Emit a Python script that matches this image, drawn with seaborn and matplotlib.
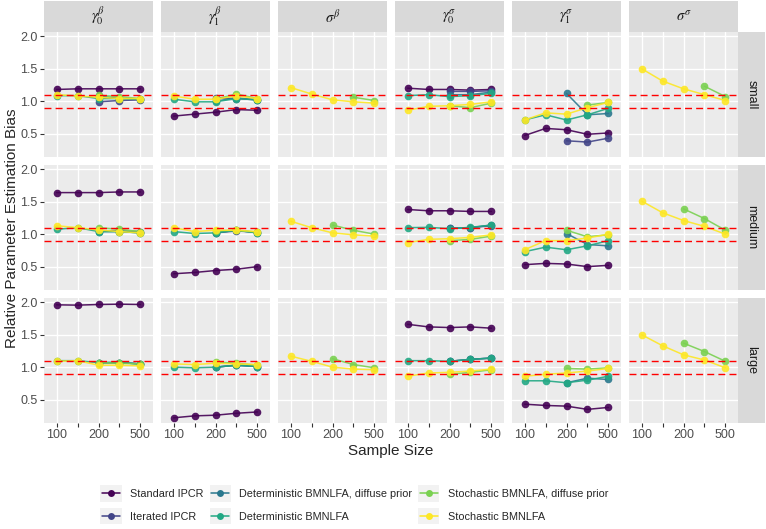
import numpy as np
import pandas as pd
import seaborn as sns
import matplotlib.pyplot as plt
from matplotlib.patches import Rectangle
from matplotlib.lines import Line2D
from matplotlib.legend_handler import HandlerLine2D

N = np.nan

# ---- data ----
sample_sizes = [100, 150, 200, 300, 500]
size_ticklabels = ["100", "", "200", "", "500"]
sizes = ["small", "medium", "large"]
params = [r"$\gamma_0^\beta$", r"$\gamma_1^\beta$", r"$\sigma^\beta$",
          r"$\gamma_0^\sigma$", r"$\gamma_1^\sigma$", r"$\sigma^\sigma$"]
methods = ["Standard IPCR", "Iterated IPCR", "Deterministic BMNLFA, diffuse prior",
           "Deterministic BMNLFA", "Stochastic BMNLFA, diffuse prior", "Stochastic BMNLFA"]
colors = ["#440154", "#414487", "#2A788E", "#22A884", "#7AD151", "#FDE725"]
NA5 = [N] * 5

# rows per size: gamma0_beta, gamma1_beta, sigma_beta, gamma0_sigma, gamma1_sigma, sigma_sigma
standard_ipcr = {
    "small":  [[1.18, 1.19, 1.19, 1.19, 1.19], [0.77, 0.80, 0.83, 0.87, 0.86], NA5,
               [1.20, 1.18, 1.18, 1.17, 1.18], [0.47, 0.58, 0.56, 0.49, 0.51], NA5],
    "medium": [[1.64, 1.64, 1.64, 1.65, 1.65], [0.39, 0.41, 0.44, 0.46, 0.50], NA5,
               [1.38, 1.36, 1.36, 1.35, 1.35], [0.53, 0.55, 0.54, 0.50, 0.52], NA5],
    "large":  [[1.96, 1.955, 1.965, 1.97, 1.965], [0.22, 0.25, 0.26, 0.29, 0.31], NA5,
               [1.66, 1.62, 1.61, 1.62, 1.60], [0.43, 0.41, 0.40, 0.35, 0.38], NA5],
}
iterated_ipcr = {
    "small":  [[N, N, 0.99, 1.01, 1.02], [N, N, 1.05, 1.04, 1.02], NA5,
               [N, N, 1.15, 1.15, 1.16], [N, N, 0.39, 0.37, 0.43], NA5],
    "medium": [[N, N, 1.05, 1.05, 1.04], [N, N, 1.02, 1.05, 1.03], NA5,
               [N, N, 1.09, 1.10, 1.13], NA5, NA5],
    "large":  [[N, N, 1.07, 1.07, 1.05], [N, N, 1.00, 1.03, 1.01], NA5,
               [N, N, 1.09, 1.12, 1.14], NA5, NA5],
}
det_diffuse = {
    "small":  [[N, N, 1.08, 1.04, 1.03], [N, N, 1.00, 1.05, 1.02], NA5,
               [N, N, 1.10, 1.10, 1.14], [N, N, 1.12, 0.79, 0.81], NA5],
    "medium": [[N, N, 1.04, 1.04, 1.02], [N, N, 1.02, 1.06, 1.02], NA5,
               [N, N, 1.09, 1.10, 1.14], [N, N, 1.01, 0.84, 0.82], NA5],
    "large":  [[N, N, 1.07, 1.07, 1.05], [N, N, 1.00, 1.03, 1.01], NA5,
               [N, N, 1.09, 1.12, 1.14], [N, N, 0.76, 0.83, 0.81], NA5],
}
det_bmnlfa = {
    "small":  [[1.085, 1.085, 1.04, 1.04, 1.03], [1.03, 0.99, 0.99, 1.04, 1.02], NA5,
               [1.085, 1.10, 1.07, 1.085, 1.12], [0.71, 0.79, 0.71, 0.79, 0.89], NA5],
    "medium": [[1.075, 1.10, 1.04, 1.04, 1.02], [1.04, 1.01, 1.02, 1.06, 1.02], NA5,
               [1.10, 1.105, 1.085, 1.105, 1.14], [0.73, 0.80, 0.76, 0.82, 0.90], NA5],
    "large":  [[1.10, 1.10, 1.07, 1.07, 1.05], [1.00, 0.99, 1.00, 1.03, 1.01], NA5,
               [1.10, 1.10, 1.09, 1.12, 1.14], [0.79, 0.79, 0.76, 0.80, 0.86], NA5],
}
stoch_diffuse = {
    "small":  [[N, N, 1.09, 1.07, 1.04], [N, N, 1.03, 1.11, 1.04], [N, N, N, 1.06, 1.01],
               [N, N, 0.93, 0.90, 0.97], [N, N, N, 0.94, 0.98], [N, N, N, 1.23, 1.07]],
    "medium": [[N, N, 1.10, 1.075, 1.04], [N, N, 1.05, 1.06, 1.03], [N, N, 1.14, 1.06, 1.00],
               [N, N, 0.90, 0.92, 0.97], [N, N, 1.06, 0.96, 0.99], [N, N, 1.39, 1.24, 1.06]],
    "large":  [[N, N, 1.07, 1.06, 1.05], [N, N, 1.08, 1.06, 1.03], [N, N, 1.13, 1.04, 0.99],
               [N, N, 0.89, 0.92, 0.96], [N, N, 0.98, 0.97, 0.99], [N, N, 1.37, 1.24, 1.09]],
}
stoch_bmnlfa = {
    "small":  [[1.10, 1.08, 1.06, 1.04, 1.04], [1.08, 1.03, 1.03, 1.08, 1.04],
               [1.21, 1.11, 1.02, 0.99, 0.97], [0.86, 0.92, 0.93, 0.95, 0.99],
               [0.71, 0.82, 0.80, 0.90, 0.98], [1.50, 1.31, 1.19, 1.10, 1.01]],
    "medium": [[1.13, 1.10, 1.065, 1.04, 1.02], [1.10, 1.04, 1.06, 1.06, 1.04],
               [1.20, 1.10, 1.02, 0.99, 0.97], [0.87, 0.92, 0.93, 0.95, 0.99],
               [0.76, 0.90, 0.90, 0.94, 1.00], [1.51, 1.33, 1.21, 1.12, 1.00]],
    "large":  [[1.09, 1.10, 1.03, 1.03, 1.02], [1.05, 1.04, 1.06, 1.05, 1.04],
               [1.17, 1.09, 1.00, 0.97, 0.96], [0.86, 0.91, 0.92, 0.94, 0.97],
               [0.86, 0.89, 0.91, 0.94, 0.98], [1.50, 1.33, 1.19, 1.11, 0.99]],
}
method_data = [standard_ipcr, iterated_ipcr, det_diffuse, det_bmnlfa, stoch_diffuse, stoch_bmnlfa]

rows = []
for m, tbl in zip(methods, method_data):
    for s in sizes:
        for p, vals in zip(params, tbl[s]):
            for i, v in enumerate(vals):
                rows.append({"method": m, "size": s, "param": p, "pos": i, "bias": v})
df = pd.DataFrame(rows).dropna()

# ---- style ----
sns.set_theme(style="darkgrid", rc={
    "axes.facecolor": "#EBEBEB", "grid.color": "white", "grid.linewidth": 1.0,
    "xtick.color": "#333333", "ytick.color": "#333333",
    "xtick.labelcolor": "#4D4D4D", "ytick.labelcolor": "#4D4D4D",
    "xtick.major.size": 3, "ytick.major.size": 3,
    "xtick.major.width": 0.8, "ytick.major.width": 0.8,
    "xtick.major.pad": 1.5, "ytick.major.pad": 1.5,
    "xtick.bottom": True, "ytick.left": True,
    "mathtext.fontset": "stix",
})
plt.rcParams["font.family"] = ["Liberation Sans", "DejaVu Sans"]

W, H = 766, 529
fig, axes = plt.subplots(3, 6, figsize=(W / 100, H / 100), dpi=100)

pw, ph = 109, 125
lefts = [44 + 117 * j for j in range(6)]
tops = [32 + 133 * i for i in range(3)]

for i, s in enumerate(sizes):
    for j, p in enumerate(params):
        ax = axes[i, j]
        ax.set_position([lefts[j] / W, 1 - (tops[i] + ph) / H, pw / W, ph / H])
        sub = df[(df["size"] == s) & (df["param"] == p)]
        sns.lineplot(data=sub, x="pos", y="bias", hue="method", hue_order=methods,
                     palette=colors, marker="o", markersize=5.5, markeredgewidth=0,
                     linewidth=1.1, alpha=0.9, estimator=None, sort=False,
                     legend=False, ax=ax)
        for yv in (0.9, 1.1):
            ax.axhline(yv, color="red", linestyle=(0, (5, 3)), linewidth=1.0, zorder=5)
        ax.set_xlim(-0.6, 4.6)
        ax.set_ylim(0.14, 2.065)
        ax.set_xticks(range(len(sample_sizes)))
        ax.set_yticks([0.5, 1.0, 1.5, 2.0])
        ax.set_xlabel("")
        ax.set_ylabel("")
        for sp in ax.spines.values():
            sp.set_visible(False)
        if i == 2:
            ax.set_xticklabels(size_ticklabels, fontsize=9)
        else:
            ax.set_xticklabels([])
            ax.tick_params(axis="x", length=0)
        if j == 0:
            ax.set_yticklabels(["0.5", "1.0", "1.5", "2.0"], fontsize=9)
        else:
            ax.set_yticklabels([])
            ax.tick_params(axis="y", length=0)

# facet strips
for j, p in enumerate(params):
    fig.add_artist(Rectangle((lefts[j] / W, 1 - 32 / H), pw / W, 31 / H,
                             transform=fig.transFigure, facecolor="#D9D9D9", edgecolor="none"))
    fig.text((lefts[j] + pw / 2) / W, 1 - 16.5 / H, p, ha="center", va="center",
             fontsize=10.5, color="#1A1A1A")
for i, s in enumerate(sizes):
    fig.add_artist(Rectangle((738 / W, 1 - (tops[i] + ph) / H), 27 / W, ph / H,
                             transform=fig.transFigure, facecolor="#D9D9D9", edgecolor="none"))
    fig.text(751.5 / W, 1 - (tops[i] + ph / 2) / H, s, ha="center", va="center",
             rotation=-90, fontsize=9, color="#1A1A1A")

fig.text(391 / W, 1 - 451 / H, "Sample Size", ha="center", va="center", fontsize=11)
fig.text(12 / W, 1 - 228 / H, "Relative Parameter Estimation Bias", ha="center",
         va="center", rotation=90, fontsize=11)


class KeyWithBackground(HandlerLine2D):
    # legend key drawn on a light grey square, like ggplot's legend.key
    def create_artists(self, legend, orig_handle, xdescent, ydescent, width, height,
                       fontsize, trans):
        arts = super().create_artists(legend, orig_handle, xdescent, ydescent, width,
                                      height, fontsize, trans)
        pad = 0.4 * fontsize
        bg = Rectangle((-xdescent - 1, -ydescent - pad), width + 2, height + 2 * pad,
                       facecolor="#F2F2F2", edgecolor="none", transform=trans)
        return [bg] + list(arts)


handles = [Line2D([], [], color=c, marker="o", markersize=5, markeredgewidth=0, linewidth=1.1)
           for c in colors]
fig.legend(handles, methods, loc="center", bbox_to_anchor=(355 / W, 1 - 505.5 / H),
           ncol=3, frameon=False, fontsize=7.8, handlelength=1.7, handletextpad=0.9,
           columnspacing=0.7, labelspacing=1.15, borderpad=0,
           handler_map={Line2D: KeyWithBackground()})

fig.savefig("out.png", dpi=100)
